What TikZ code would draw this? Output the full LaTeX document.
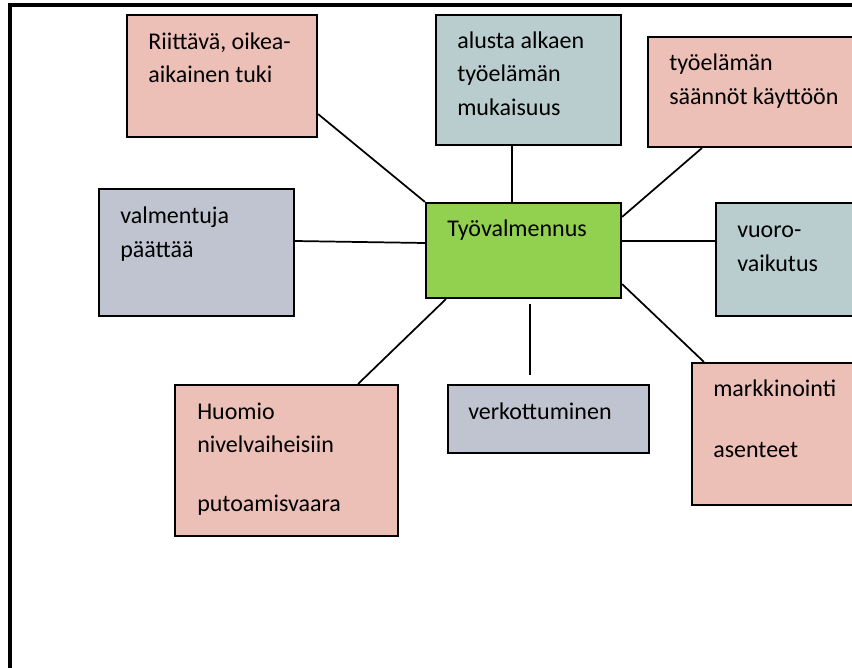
\documentclass[tikz,border=0pt]{standalone}
\usepackage{fontspec}
\setmainfont{Carlito}
\usetikzlibrary{calc}

\definecolor{rose}{HTML}{ECBFB7}
\definecolor{teal}{HTML}{B9CDCF}
\definecolor{slate}{HTML}{C0C4D0}
\definecolor{leaf}{HTML}{92D050}

\tikzset{
  box/.style={draw=black, line width=1.6pt, rectangle, inner sep=0pt},
  % text is placed by the baseline of its last line
  lbl/.style={anchor=base west, inner sep=0pt, align=left,
              font=\fontsize{18}{25.1}\selectfont},
  link/.style={draw=black, line width=1.3pt},
  frame/.style={draw=black, line width=2.3pt}
}

\begin{document}
\begin{tikzpicture}[x=0.75pt, y=-0.75pt]
  \path[use as bounding box] (0,0) rectangle (852,667);
  \clip (0,0) rectangle (852,667);

  % page frame (left and top rules)
  \draw[frame] (10,680) -- (10,5) -- (870,5);

  % boxes
  \node[box, fill=rose,  minimum width=142.5pt,  minimum height=91.5pt]  (riit)  at (222,76)    {};
  \node[box, fill=teal,  minimum width=138.75pt, minimum height=97.5pt]  (alku)  at (528.5,80)  {};
  \node[box, fill=rose,  minimum width=174pt,    minimum height=82.5pt]  (saan)  at (764,92)    {};
  \node[box, fill=slate, minimum width=146.25pt, minimum height=95.25pt] (valm)  at (196.5,252.5) {};
  \node[box, fill=leaf,  minimum width=146.25pt, minimum height=71.25pt] (tyov)  at (523.5,250.5) {};
  \node[box, fill=teal,  minimum width=123pt,    minimum height=84.75pt] (vuor)  at (798,259.5) {};
  \node[box, fill=rose,  minimum width=141pt,    minimum height=106.5pt] (mark)  at (786,434)   {};
  \node[box, fill=slate, minimum width=150.75pt, minimum height=51pt]    (verk)  at (548.5,419) {};
  \node[box, fill=rose,  minimum width=167.25pt, minimum height=113.25pt](huom)  at (286.5,460.5) {};

  % texts
  \node[lbl] (triit) at (148,82.5)  {Riittävä, oikea-\\aikainen tuki};
  \node[lbl] (talku) at (457,115.4) {alusta alkaen\\työelämän\\mukaisuus};
  \node[lbl] (tsaan) at (669,104)   {työelämän\\säännöt käyttöön};
  \node[lbl] (tvalm) at (120,257)   {valmentuja\\päättää};
  \node[lbl] (ttyov) at (447,236.5) {Työvalmennus};
  \node[lbl] (tvuor) at (737,271)   {vuoro-\\vaikutus};
  \node[lbl] (thuom) at (197,511.7) {Huomio\\nivelvaiheisiin\\[19.3pt]putoamisvaara};
  \node[lbl] (tverk) at (468,419)   {verkottuminen};
  \node[lbl] (tmark) at (713,457)   {markkinointi\\[20pt]asenteet};

  % connectors
  \draw[link] ($(riit.south east)+(0,-24)$) -- (tyov.north west);
  \coordinate (a1) at ($(alku.south)+(-16.5,0)$);
  \draw[link] (a1) -- (a1 |- tyov.north);
  \draw[link] ($(saan.south west)+(55,0)$) -- ($(tyov.north east)+(0,15)$);
  \draw[link] ($(valm.east)+(0,-11.5)$) -- ($(tyov.west)+(0,-7.5)$);
  \draw[link] ($(tyov.east)+(0,-9.5)$) -- ($(vuor.west)+(0,-18.5)$);
  \draw[link] ($(tyov.south west)+(21,0)$) -- ($(huom.north east)+(-41,0)$);
  \coordinate (v1) at ($(tyov.south)+(6.5,5)$);
  \coordinate (v2) at ($(verk.north)+(-18.5,-9)$);
  \draw[link] (v1) -- (v2);
  \draw[link] ($(tyov.south east)+(0,-15)$) -- ($(mark.north west)+(13,0)$);
\end{tikzpicture}
\end{document}
